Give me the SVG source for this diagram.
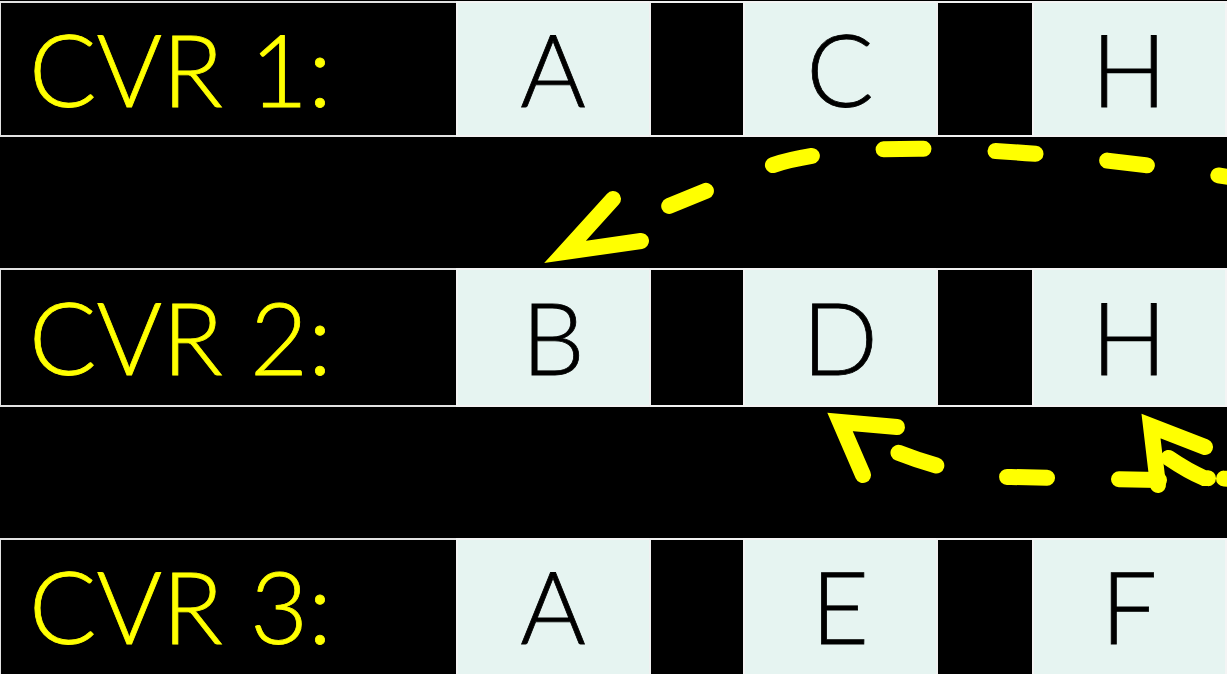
<svg xmlns="http://www.w3.org/2000/svg" width="1227" height="674" viewBox="0 0 1227 674">
<style>
.lbl{fill:#000;stroke:#e2e2e2;stroke-width:2}
.cell{fill:#e6f4f1;stroke:#f4f4f4;stroke-width:2}
.blk{fill:#000;stroke:#f0f0f0;stroke-width:2}
.ltxt{font-family:Lato,"Noto Sans",sans-serif;font-weight:300;font-size:100px;fill:#ffff00;stroke:#ffff00;stroke-width:0.8}
.ctxt{font-family:Lato,"Noto Sans",sans-serif;font-weight:300;font-size:100px;fill:#000;stroke:#000;stroke-width:0.8;text-anchor:middle}
.dash{fill:none;stroke:#ffff00;stroke-width:16;stroke-linecap:round;stroke-dasharray:40 72}
.head{fill:none;stroke:#ffff00;stroke-width:16;stroke-linecap:round;stroke-linejoin:miter;stroke-miterlimit:10}
</style>
<rect x="0" y="0" width="1227" height="674" fill="#000"/>
<g id="row1">
<rect class="lbl" x="0" y="2" width="457" height="134"/>
<text class="ltxt" x="29" y="107">CVR 1:</text>
<g id="r1c1"><rect class="cell" x="457" y="2" width="193" height="134"/><text class="ctxt" x="553" y="107">A</text></g>
<rect class="blk" x="650" y="2" width="94" height="134"/>
<g id="r1c2"><rect class="cell" x="744" y="2" width="193" height="134"/><text class="ctxt" x="840" y="107">C</text></g>
<rect class="blk" x="937" y="2" width="96" height="134"/>
<g id="r1c3"><rect class="cell" x="1033" y="2" width="193" height="134"/><text class="ctxt" x="1129" y="107">H</text></g>
</g>
<g id="row2">
<rect class="lbl" x="0" y="269" width="457" height="137"/>
<text class="ltxt" x="29" y="375">CVR 2:</text>
<g id="r2c1"><rect class="cell" x="457" y="269" width="193" height="137"/><text class="ctxt" x="553" y="375">B</text></g>
<rect class="blk" x="650" y="269" width="94" height="137"/>
<g id="r2c2"><rect class="cell" x="744" y="269" width="193" height="137"/><text class="ctxt" x="840" y="375">D</text></g>
<rect class="blk" x="937" y="269" width="96" height="137"/>
<g id="r2c3"><rect class="cell" x="1033" y="269" width="193" height="137"/><text class="ctxt" x="1129" y="375">H</text></g>
</g>
<g id="row3">
<rect class="lbl" x="0" y="539" width="457" height="136"/>
<text class="ltxt" x="29" y="644">CVR 3:</text>
<g id="r3c1"><rect class="cell" x="457" y="539" width="193" height="136"/><text class="ctxt" x="553" y="644">A</text></g>
<rect class="blk" x="650" y="539" width="94" height="136"/>
<g id="r3c2"><rect class="cell" x="744" y="539" width="193" height="136"/><text class="ctxt" x="840" y="644">E</text></g>
<rect class="blk" x="937" y="539" width="96" height="136"/>
<g id="r3c3"><rect class="cell" x="1033" y="539" width="193" height="136"/><text class="ctxt" x="1129" y="644">F</text></g>
</g>
<g id="connectors">
<path class="dash" stroke-dashoffset="23" d="M1235 178 C1060 150 860 135 770 166 C735 178 690 198 605 232"/>
<path class="head" d="M613 199 L565 252 L641 241"/>
<path class="dash" d="M1159 480 L1011 477 Q950 476 880 445"/>
<path class="head" d="M897 427 L840 422 L863 475"/>
<path class="dash" style="stroke-dasharray:12 16 45 100" d="M1236 479 L1204 478 Q1185 470 1160 452"/>
<path class="head" d="M1205 447 L1151 426 L1158 485"/>
</g>
</svg>
